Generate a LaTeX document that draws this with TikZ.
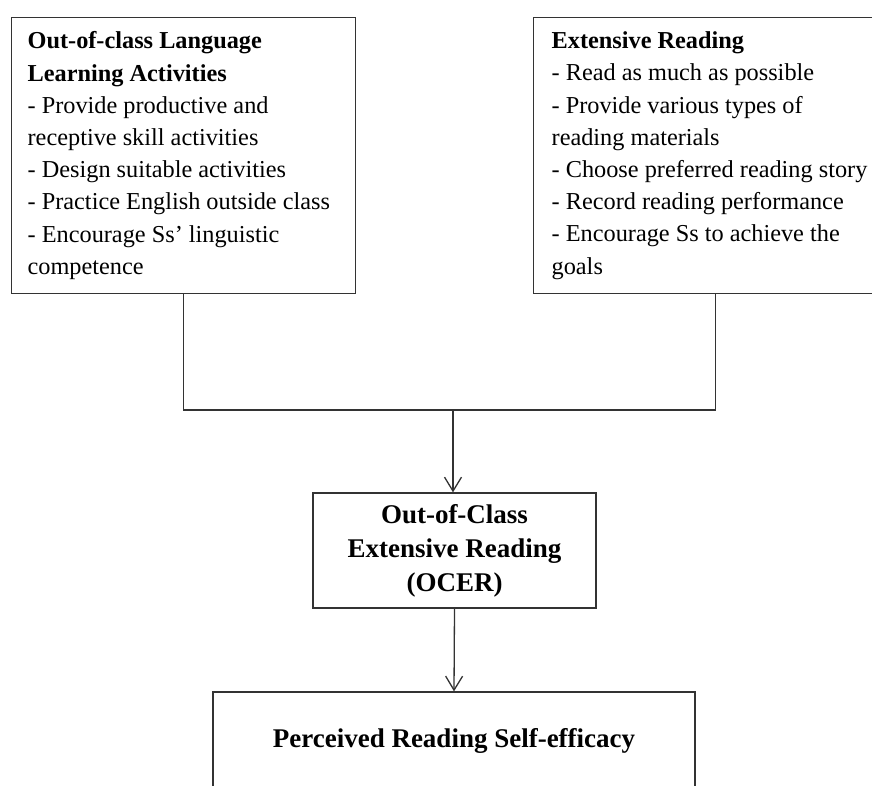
\documentclass[tikz,border=0pt]{standalone}
\usepackage{fontspec}
\setmainfont{Liberation Serif}
\usetikzlibrary{arrows.meta}
\protected\def\naturalspace{\spaceskip=0pt\xspaceskip=0pt\relax}
\begin{document}
\begin{tikzpicture}[x=1pt,y=-1pt,
    box/.style={draw=black!80, line width=1.3pt, inner ysep=0pt, execute at begin node=\naturalspace},
    listbox/.style={box, anchor=north west, align=left, minimum height=276pt, font=\fontsize{24.3}{32.2}\selectfont},
    headbox/.style={box, align=center, font=\fontsize{27}{34}\selectfont\bfseries},
    link/.style={draw=black!80, line width=1.3pt},
    >={Straight Barb[length=14pt,width=17pt]}]
        \useasboundingbox (0,0) rectangle (872,785);
        % the two sources
        \node[listbox, text width=312pt, inner xsep=16pt] (ocla) at (11,17) {\textbf{Out-of-class Language}\\\textbf{Learning Activities}\\- Provide productive and\\receptive skill activities\\- Design suitable activities\\- Practice English outside class\\- Encourage Ss’ linguistic\\competence};
        \node[listbox, text width=328pt, inner xsep=18pt] (er) at (533,17) {\textbf{Extensive Reading}\\- Read as much as possible\\- Provide various types of\\reading materials\\- Choose preferred reading story\\- Record reading performance\\- Encourage Ss to achieve the\\goals};
        % merged result and outcome
        \node[headbox, minimum width=283pt, minimum height=115pt] (ocer) at (454.5,550.5) {Out-of-Class\\Extensive Reading\\(OCER)};
        \node[headbox, minimum width=482pt, minimum height=98pt] (prse) at (454,741) {Perceived Reading Self-efficacy};
        \coordinate (join) at (453,410);
        \draw[link] (ocla.south) |- (join) -| (er.south);
        \draw[link, ->] (join) -- (join |- ocer.north);
        \draw[link, ->] (ocer.south) -- (prse.north);
\end{tikzpicture}
\end{document}
